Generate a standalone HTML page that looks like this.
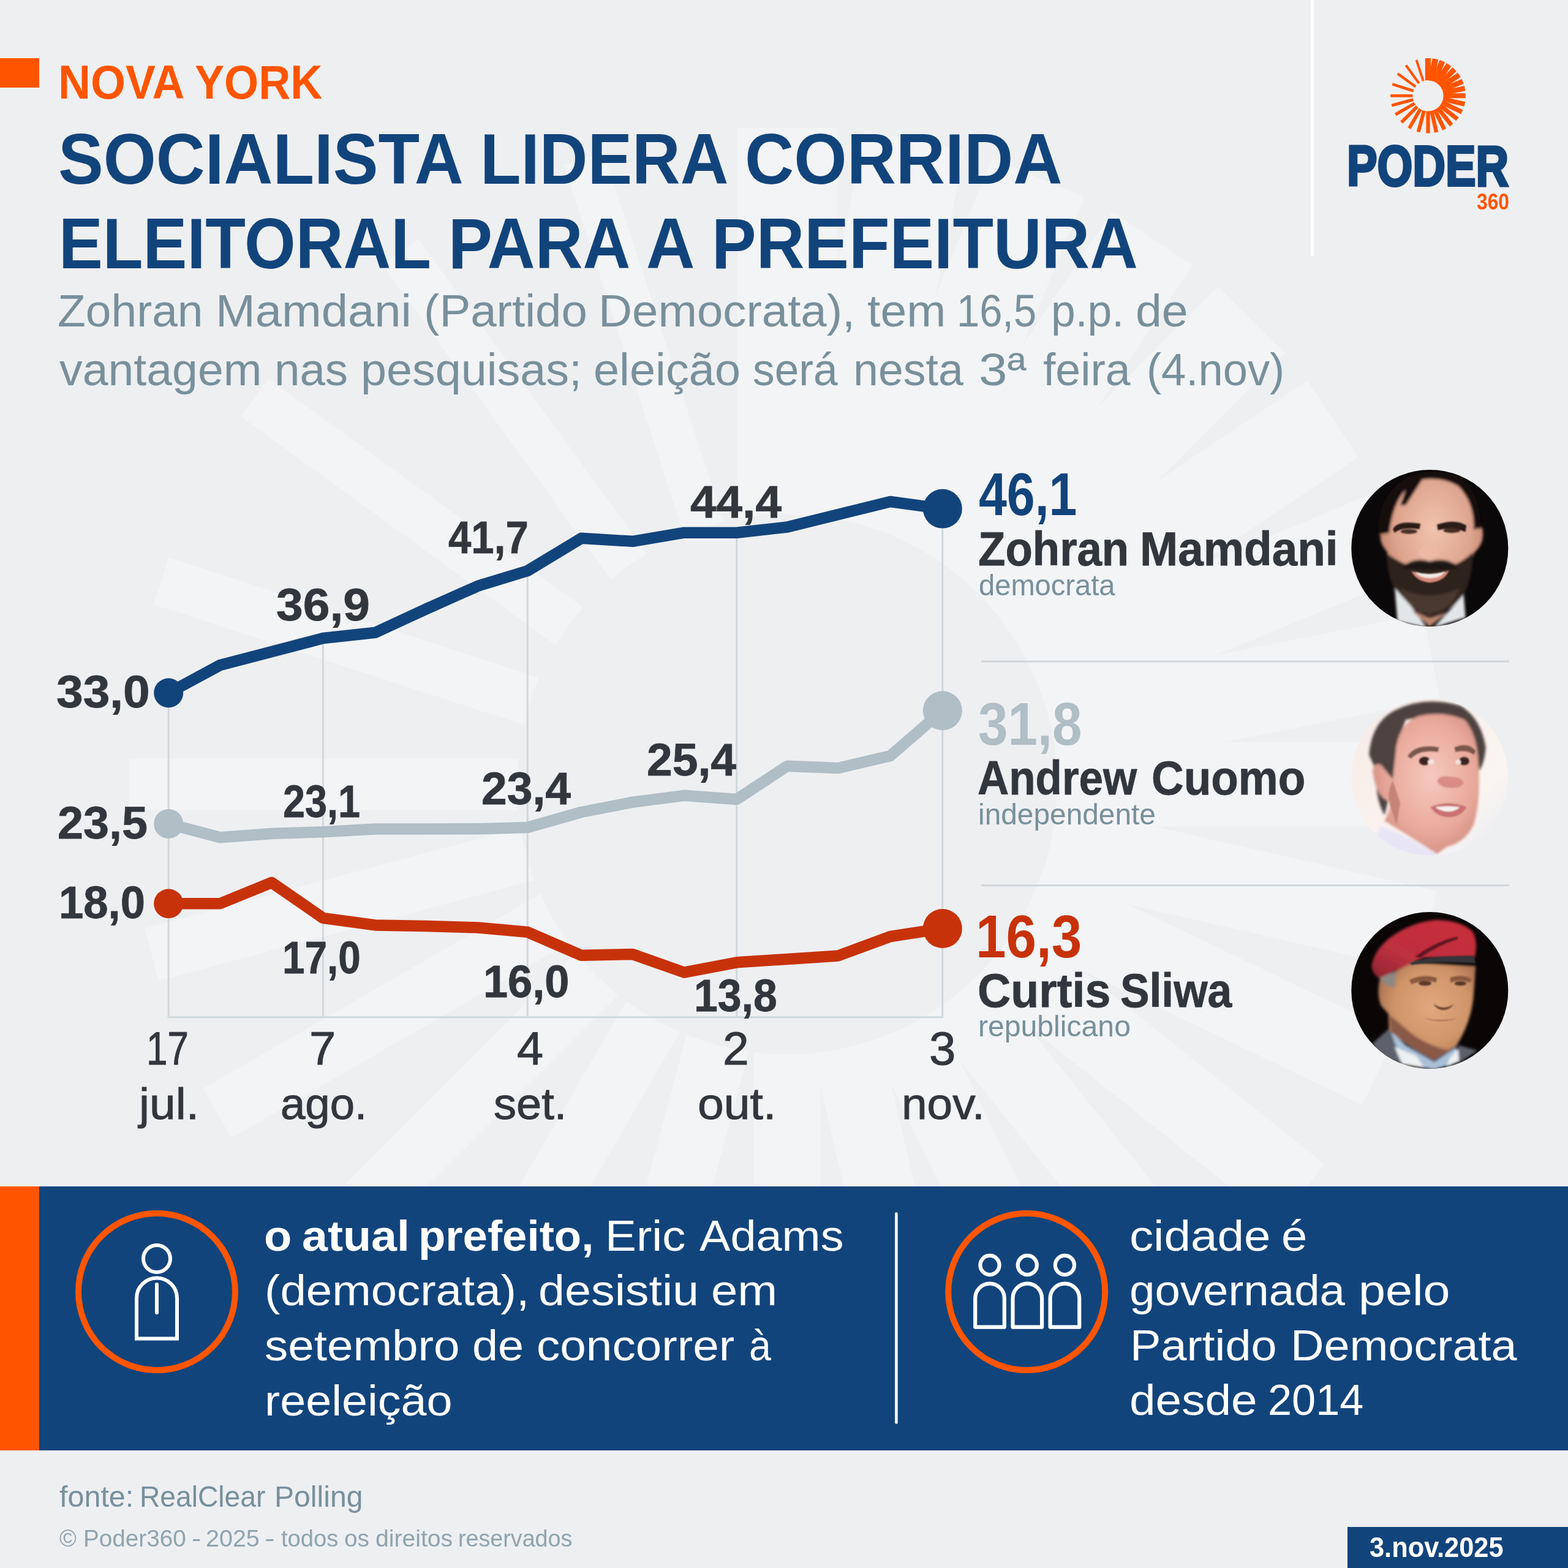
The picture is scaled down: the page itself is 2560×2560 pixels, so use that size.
<!DOCTYPE html>
<html lang="pt-BR">
<head>
<meta charset="utf-8">
<meta name="viewport" content="width=2560">
<title>Nova York: socialista lidera corrida eleitoral para a prefeitura</title>
<style>
html,body{margin:0;padding:0}
body{width:2560px;height:2560px;overflow:hidden;background:#EEEFF1;font-family:"Liberation Sans",sans-serif;position:relative}
.page{position:absolute;left:0;top:0;width:2560px;height:2560px;overflow:hidden;background:#EEEFF1}
.ln{position:absolute;left:0;top:0;width:0;height:0;margin:0;padding:0;line-height:1;white-space:nowrap}
.ln span{position:absolute;white-space:pre;line-height:1;transform-origin:0 0}
.tag{position:absolute;left:0;top:94.5px;width:64px;height:48px;background:#FF5500}
.vrule{position:absolute;left:2140px;top:0;width:5px;height:418px;background:#fff}
.band{position:absolute;left:0;top:1936.5px;width:2560px;height:431.5px;background:#12447C}
.band i{position:absolute;left:0;top:0;width:64px;height:431.5px;background:#FF5500}
.datebox{position:absolute;left:2200px;top:2493px;width:360px;height:67px;background:#12447C}
svg{position:absolute;left:0;top:0}
.logo span{-webkit-text-stroke:4px #12447C}
.tick span{-webkit-text-stroke:1px #32373E}
.val span,.name span{-webkit-text-stroke:.8px #32373E}
</style>
</head>
<body>
<div class="page">
<svg width="2560" height="2560" viewBox="0 0 2560 2560" aria-hidden="true"><g transform="translate(1285,1280.5)" fill="#F3F4F6"><path transform="rotate(0)" d="M-81.7,-433.1 A440.8,440.8 0 0,1 81.7,-433.1 L81.7,-1071.9 L-81.7,-1071.9 Z"/>
<path transform="rotate(11.2)" d="M-83.2,-432.8 A440.8,440.8 0 0,1 83.2,-432.8 L83.2,-1071.8 L-83.2,-1071.8 Z"/>
<path transform="rotate(22.5)" d="M-81.1,-433.2 A440.8,440.8 0 0,1 81.1,-433.2 L81.1,-1071.9 L-81.1,-1071.9 Z"/>
<path transform="rotate(33.8)" d="M-79.1,-433.6 A440.8,440.8 0 0,1 79.1,-433.6 L79.1,-1072.1 L-79.1,-1072.1 Z"/>
<path transform="rotate(45)" d="M-77,-434 A440.8,440.8 0 0,1 77,-434 L77,-1072.2 L-77,-1072.2 Z"/>
<path transform="rotate(56.2)" d="M-75,-434.3 A440.8,440.8 0 0,1 75,-434.3 L75,-1072.4 L-75,-1072.4 Z"/>
<path transform="rotate(67.5)" d="M-72.9,-434.7 A440.8,440.8 0 0,1 72.9,-434.7 L72.9,-1072.5 L-72.9,-1072.5 Z"/>
<path transform="rotate(78.8)" d="M-70.9,-435 A440.8,440.8 0 0,1 70.9,-435 L70.9,-1072.7 L-70.9,-1072.7 Z"/>
<path transform="rotate(90)" d="M-68.9,-435.3 A440.8,440.8 0 0,1 68.9,-435.3 L68.9,-1072.8 L-68.9,-1072.8 Z"/>
<path transform="rotate(102.9)" d="M-66.8,-435.7 A440.8,440.8 0 0,1 66.8,-435.7 L66.8,-1072.9 L-66.8,-1072.9 Z"/>
<path transform="rotate(115.7)" d="M-64.8,-436 A440.8,440.8 0 0,1 64.8,-436 L64.8,-1073 L-64.8,-1073 Z"/>
<path transform="rotate(128.6)" d="M-62.7,-436.3 A440.8,440.8 0 0,1 62.7,-436.3 L62.7,-1073.2 L-62.7,-1073.2 Z"/>
<path transform="rotate(141.4)" d="M-60.7,-436.6 A440.8,440.8 0 0,1 60.7,-436.6 L60.7,-1073.3 L-60.7,-1073.3 Z"/>
<path transform="rotate(154.3)" d="M-58.6,-436.8 A440.8,440.8 0 0,1 58.6,-436.8 L58.6,-1073.4 L-58.6,-1073.4 Z"/>
<path transform="rotate(167.1)" d="M-56.6,-437.1 A440.8,440.8 0 0,1 56.6,-437.1 L56.6,-1073.5 L-56.6,-1073.5 Z"/>
<path transform="rotate(180)" d="M-54.6,-437.4 A440.8,440.8 0 0,1 54.6,-437.4 L54.6,-1073.6 L-54.6,-1073.6 Z"/>
<path transform="rotate(195)" d="M-52.5,-437.6 A440.8,440.8 0 0,1 52.5,-437.6 L52.5,-1073.7 L-52.5,-1073.7 Z"/>
<path transform="rotate(210)" d="M-50.5,-437.9 A440.8,440.8 0 0,1 50.5,-437.9 L50.5,-1073.8 L-50.5,-1073.8 Z"/>
<path transform="rotate(225)" d="M-48.4,-438.1 A440.8,440.8 0 0,1 48.4,-438.1 L48.4,-1073.9 L-48.4,-1073.9 Z"/>
<path transform="rotate(240)" d="M-46.4,-438.3 A440.8,440.8 0 0,1 46.4,-438.3 L46.4,-1074 L-46.4,-1074 Z"/>
<path transform="rotate(255)" d="M-44.3,-438.5 A440.8,440.8 0 0,1 44.3,-438.5 L44.3,-1074.1 L-44.3,-1074.1 Z"/>
<path transform="rotate(270)" d="M-42.3,-438.7 A440.8,440.8 0 0,1 42.3,-438.7 L42.3,-1074.2 L-42.3,-1074.2 Z"/>
<path transform="rotate(288)" d="M-40.3,-438.9 A440.8,440.8 0 0,1 40.3,-438.9 L40.3,-1074.2 L-40.3,-1074.2 Z"/>
<path transform="rotate(306)" d="M-38.2,-439.1 A440.8,440.8 0 0,1 38.2,-439.1 L38.2,-1074.3 L-38.2,-1074.3 Z"/>
<path transform="rotate(324)" d="M-36.2,-439.3 A440.8,440.8 0 0,1 36.2,-439.3 L36.2,-1074.4 L-36.2,-1074.4 Z"/>
<path transform="rotate(342)" d="M-34.1,-439.4 A440.8,440.8 0 0,1 34.1,-439.4 L34.1,-1074.5 L-34.1,-1074.5 Z"/></g></svg>
<div class="tag"></div><div class="vrule"></div>
<div class="band"><i></i></div><div class="datebox"></div>
<svg width="2560" height="2560" viewBox="0 0 2560 2560">
<g transform="translate(2331.5,156.3)" fill="#FF5500"><path transform="rotate(0)" d="M-4.67,-24.74 A25.17,25.17 0 0,1 4.67,-24.74 L4.67,-61.22 L-4.67,-61.22 Z"/>
<path transform="rotate(11.25)" d="M-4.75,-24.72 A25.17,25.17 0 0,1 4.75,-24.72 L4.75,-61.22 L-4.75,-61.22 Z"/>
<path transform="rotate(22.5)" d="M-4.63,-24.74 A25.17,25.17 0 0,1 4.63,-24.74 L4.63,-61.22 L-4.63,-61.22 Z"/>
<path transform="rotate(33.75)" d="M-4.52,-24.77 A25.17,25.17 0 0,1 4.52,-24.77 L4.52,-61.23 L-4.52,-61.23 Z"/>
<path transform="rotate(45)" d="M-4.4,-24.79 A25.17,25.17 0 0,1 4.4,-24.79 L4.4,-61.24 L-4.4,-61.24 Z"/>
<path transform="rotate(56.25)" d="M-4.28,-24.81 A25.17,25.17 0 0,1 4.28,-24.81 L4.28,-61.25 L-4.28,-61.25 Z"/>
<path transform="rotate(67.5)" d="M-4.17,-24.83 A25.17,25.17 0 0,1 4.17,-24.83 L4.17,-61.26 L-4.17,-61.26 Z"/>
<path transform="rotate(78.75)" d="M-4.05,-24.85 A25.17,25.17 0 0,1 4.05,-24.85 L4.05,-61.27 L-4.05,-61.27 Z"/>
<path transform="rotate(90)" d="M-3.93,-24.86 A25.17,25.17 0 0,1 3.93,-24.86 L3.93,-61.27 L-3.93,-61.27 Z"/>
<path transform="rotate(102.86)" d="M-3.82,-24.88 A25.17,25.17 0 0,1 3.82,-24.88 L3.82,-61.28 L-3.82,-61.28 Z"/>
<path transform="rotate(115.71)" d="M-3.7,-24.9 A25.17,25.17 0 0,1 3.7,-24.9 L3.7,-61.29 L-3.7,-61.29 Z"/>
<path transform="rotate(128.57)" d="M-3.58,-24.92 A25.17,25.17 0 0,1 3.58,-24.92 L3.58,-61.3 L-3.58,-61.3 Z"/>
<path transform="rotate(141.43)" d="M-3.47,-24.93 A25.17,25.17 0 0,1 3.47,-24.93 L3.47,-61.3 L-3.47,-61.3 Z"/>
<path transform="rotate(154.29)" d="M-3.35,-24.95 A25.17,25.17 0 0,1 3.35,-24.95 L3.35,-61.31 L-3.35,-61.31 Z"/>
<path transform="rotate(167.14)" d="M-3.23,-24.97 A25.17,25.17 0 0,1 3.23,-24.97 L3.23,-61.31 L-3.23,-61.31 Z"/>
<path transform="rotate(180)" d="M-3.12,-24.98 A25.17,25.17 0 0,1 3.12,-24.98 L3.12,-61.32 L-3.12,-61.32 Z"/>
<path transform="rotate(195)" d="M-3,-24.99 A25.17,25.17 0 0,1 3,-24.99 L3,-61.33 L-3,-61.33 Z"/>
<path transform="rotate(210)" d="M-2.88,-25.01 A25.17,25.17 0 0,1 2.88,-25.01 L2.88,-61.33 L-2.88,-61.33 Z"/>
<path transform="rotate(225)" d="M-2.77,-25.02 A25.17,25.17 0 0,1 2.77,-25.02 L2.77,-61.34 L-2.77,-61.34 Z"/>
<path transform="rotate(240)" d="M-2.65,-25.03 A25.17,25.17 0 0,1 2.65,-25.03 L2.65,-61.34 L-2.65,-61.34 Z"/>
<path transform="rotate(255)" d="M-2.53,-25.05 A25.17,25.17 0 0,1 2.53,-25.05 L2.53,-61.35 L-2.53,-61.35 Z"/>
<path transform="rotate(270)" d="M-2.42,-25.06 A25.17,25.17 0 0,1 2.42,-25.06 L2.42,-61.35 L-2.42,-61.35 Z"/>
<path transform="rotate(288)" d="M-2.3,-25.07 A25.17,25.17 0 0,1 2.3,-25.07 L2.3,-61.36 L-2.3,-61.36 Z"/>
<path transform="rotate(306)" d="M-2.18,-25.08 A25.17,25.17 0 0,1 2.18,-25.08 L2.18,-61.36 L-2.18,-61.36 Z"/>
<path transform="rotate(324)" d="M-2.07,-25.09 A25.17,25.17 0 0,1 2.07,-25.09 L2.07,-61.37 L-2.07,-61.37 Z"/>
<path transform="rotate(342)" d="M-1.95,-25.1 A25.17,25.17 0 0,1 1.95,-25.1 L1.95,-61.37 L-1.95,-61.37 Z"/></g>
<line x1="275.2" y1="1131.3" x2="275.2" y2="1660.8" stroke="#CFD8DC" stroke-width="3"/>
<line x1="527.4" y1="1042.0" x2="527.4" y2="1660.8" stroke="#CFD8DC" stroke-width="3"/>
<line x1="861.2" y1="932.0" x2="861.2" y2="1660.8" stroke="#CFD8DC" stroke-width="3"/>
<line x1="1202.8" y1="869.7" x2="1202.8" y2="1660.8" stroke="#CFD8DC" stroke-width="3"/>
<line x1="1538.8" y1="830.6" x2="1538.8" y2="1660.8" stroke="#CFD8DC" stroke-width="3"/>
<line x1="273.7" y1="1660.8" x2="1540.3" y2="1660.8" stroke="#CFD8DC" stroke-width="3"/>
<line x1="1602" y1="1080.0" x2="2464" y2="1080.0" stroke="#CFD8DC" stroke-width="3"/>
<line x1="1602" y1="1445.5" x2="2464" y2="1445.5" stroke="#CFD8DC" stroke-width="3"/>
<polyline points="275.2,1345.0 359.2,1367.3 443.5,1361.0 527.4,1358.3 612.5,1353.6 696.5,1353.5 780.4,1353.2 861.2,1351.0 949.0,1326.0 1033.0,1309.7 1117.0,1298.8 1202.8,1305.0 1285.3,1250.7 1368.5,1254.0 1453.6,1234.0 1538.8,1160.3" fill="none" stroke="#B0BEC5" stroke-width="18.5" stroke-linejoin="round"/><circle cx="275.2" cy="1345.0" r="24" fill="#B0BEC5"/><circle cx="1538.8" cy="1160.3" r="32" fill="#B0BEC5"/>
<polyline points="275.2,1475.3 359.2,1475.3 443.5,1440.9 527.4,1498.8 612.5,1510.4 696.5,1512.0 780.4,1514.5 861.2,1521.7 949.0,1559.7 1033.0,1558.0 1117.0,1587.6 1202.8,1571.3 1285.3,1566.0 1368.5,1560.4 1453.6,1529.0 1538.8,1516.0" fill="none" stroke="#C8320A" stroke-width="18.5" stroke-linejoin="round"/><circle cx="275.2" cy="1475.3" r="24" fill="#C8320A"/><circle cx="1538.8" cy="1516.0" r="32" fill="#C8320A"/>
<polyline points="275.2,1131.3 359.2,1086.0 443.5,1064.0 527.4,1042.0 612.5,1032.8 696.5,994.0 780.4,956.7 861.2,932.0 949.0,878.8 1033.0,883.8 1117.0,869.7 1202.8,869.7 1285.3,860.5 1368.5,840.0 1453.6,819.0 1538.8,830.6" fill="none" stroke="#12447C" stroke-width="18.5" stroke-linejoin="round"/><circle cx="275.2" cy="1131.3" r="24" fill="#12447C"/><circle cx="1538.8" cy="830.6" r="32" fill="#12447C"/>
<defs><filter id="bl" x="-10%" y="-10%" width="120%" height="120%"><feGaussianBlur stdDeviation="14"/></filter><filter id="bs" x="-10%" y="-10%" width="120%" height="120%"><feGaussianBlur stdDeviation="7"/></filter><clipPath id="cp"><circle cx="961.5" cy="966" r="853"/></clipPath><radialGradient id="sk1" cx="0.52" cy="0.38" r="0.62"><stop offset="0" stop-color="#F1C3AE"/><stop offset="0.6" stop-color="#DDA48E"/><stop offset="1" stop-color="#B87862"/></radialGradient><radialGradient id="sk2" cx="0.55" cy="0.45" r="0.65"><stop offset="0" stop-color="#F6C9BE"/><stop offset="0.6" stop-color="#E9AA9C"/><stop offset="1" stop-color="#CC857A"/></radialGradient><radialGradient id="sk3" cx="0.55" cy="0.45" r="0.65"><stop offset="0" stop-color="#E2A87E"/><stop offset="0.6" stop-color="#CF9468"/><stop offset="1" stop-color="#9E664A"/></radialGradient><linearGradient id="bg2" x1="0" y1="0" x2="1" y2="1"><stop offset="0" stop-color="#F6EAE5"/><stop offset="0.7" stop-color="#FBF5F2"/><stop offset="1" stop-color="#E4E9F1"/></linearGradient><linearGradient id="br3" x1="0" y1="1" x2="1" y2="0"><stop offset="0" stop-color="#8E2530"/><stop offset="0.35" stop-color="#BE3040"/><stop offset="1" stop-color="#C92C38"/></linearGradient></defs>
<g transform="translate(2190,750) scale(0.15010)" clip-path="url(#cp)">
<rect x="80" y="90" width="1770" height="1760" fill="#0B0809"/>
<g filter="url(#bl)">
<path d="M430,780 Q400,900 500,1010 L520,1120 Q560,1400 700,1560 L960,1700 L1230,1560 Q1380,1400 1410,1100 L1450,1010 Q1570,900 1530,740 L1440,760 Q1450,420 1280,260 Q1120,150 900,190 Q640,260 540,560 Q500,680 510,800 Z" fill="url(#sk1)"/>
<path d="M400,820 Q380,420 700,200 Q960,90 1260,170 Q1520,330 1510,760 L1440,740 Q1440,460 1270,290 Q1100,190 880,220 L700,500 L640,500 L700,330 Q560,480 520,800 Z" fill="#17100F"/>
<path d="M490,1020 Q600,1100 700,1140 Q820,1060 960,1110 Q1110,1060 1240,1140 Q1340,1100 1430,1010 Q1430,1330 1300,1520 Q1150,1680 960,1690 Q770,1680 640,1520 Q500,1330 490,1020 Z" fill="#2E201C"/>
<path d="M640,1400 Q960,1560 1290,1400 Q1200,1660 960,1680 Q720,1660 640,1400 Z" fill="#4A372F"/>
<path d="M580,1400 L610,1760 L930,1830 L760,1600 Z M1330,1470 L1350,1720 L1000,1830 L1180,1640 Z" fill="#E2E6E8"/>
<path d="M760,1640 L960,1820 L1160,1660 L960,1720 Z" fill="#B98570"/>
</g><g filter="url(#bs)">
<path d="M560,760 Q600,660 860,700 L850,760 Q650,730 580,800 Z M1040,710 Q1240,640 1360,720 L1350,790 Q1220,730 1050,770 Z" fill="#2A1A17"/>
<ellipse cx="735" cy="785" rx="90" ry="26" fill="#4A2E27"/><ellipse cx="1200" cy="775" rx="90" ry="26" fill="#4A2E27"/>
<path d="M760,1215 Q960,1290 1170,1210 Q1120,1330 960,1340 Q820,1330 760,1215 Z" fill="#D98A7C"/>
<path d="M800,1222 Q960,1270 1130,1218 Q1080,1290 960,1292 Q850,1290 800,1222 Z" fill="#F3EAE5"/>
<path d="M660,1190 Q800,1100 960,1140 Q1120,1100 1270,1190 Q1120,1190 960,1200 Q800,1190 660,1190 Z" fill="#1F1512"/>
<ellipse cx="950" cy="1010" rx="110" ry="70" fill="#EDB9A5"/>
</g></g>
<g transform="translate(2190,1124) scale(0.15010)" clip-path="url(#cp)">
<rect x="80" y="90" width="1770" height="1760" fill="url(#bg2)"/>
<g filter="url(#bl)">
<path d="M300,720 Q330,380 560,250 Q900,70 1300,190 Q1520,330 1570,640 Q1560,800 1500,900 L1460,620 Q1380,360 1100,280 L700,340 L600,620 L560,1000 L470,1380 Q360,1180 380,900 Z" fill="#4E4340"/>
<path d="M600,620 Q640,380 840,300 Q1100,240 1340,340 Q1480,500 1490,820 Q1520,1200 1440,1480 Q1340,1680 1150,1720 L1040,1800 L760,1620 L470,1440 Q540,1300 530,1230 Q380,1200 340,900 Q350,800 430,830 L560,990 Z" fill="url(#sk2)"/>
<path d="M430,1490 L760,1640 L1050,1810 L1000,1850 L400,1850 L380,1600 Z" fill="#E8E6F6"/>
<path d="M1290,1700 L1300,1790 L1200,1850 L1100,1820 Z" fill="#F4F3FA"/>
</g><g filter="url(#bs)">
<path d="M720,740 Q800,600 1060,640 L1050,690 Q850,660 760,760 Z M1230,640 Q1380,580 1460,680 L1440,720 Q1360,660 1240,690 Z" fill="#7A564E"/>
<ellipse cx="905" cy="790" rx="60" ry="46" fill="#3C2320"/><ellipse cx="1335" cy="790" rx="56" ry="44" fill="#3C2320"/>
<ellipse cx="975" cy="800" rx="36" ry="30" fill="#F5E4E0"/><ellipse cx="1270" cy="800" rx="30" ry="26" fill="#F5E4E0"/>
<path d="M1040,1010 Q1060,940 1180,960 Q1310,960 1330,1030 Q1300,1090 1180,1080 Q1080,1080 1040,1010 Z" fill="#D98C86"/>
<path d="M970,1290 Q1160,1210 1360,1290 Q1300,1400 1160,1400 Q1030,1390 970,1290 Z" fill="#C97070"/>
<path d="M1020,1290 Q1160,1270 1290,1290 Q1240,1340 1160,1340 Q1070,1335 1020,1290 Z" fill="#F7F1EF"/>
<path d="M560,1000 Q500,1100 520,1240 L600,1480 L640,1250 Z" fill="#B77468" opacity="0.7"/>
</g></g>
<g transform="translate(2190,1472) scale(0.15010)" clip-path="url(#cp)">
<rect x="80" y="90" width="1770" height="1760" fill="#0A0606"/>
<g filter="url(#bl)">
<path d="M340,1540 L520,1380 L660,1760 L420,1700 Z M1270,1560 L1480,1620 L1300,1740 L1270,1740 Z" fill="#5B606A"/>
<path d="M530,1400 L700,1560 L1010,1740 L1250,1580 L1280,1740 L1010,1830 L660,1760 Z" fill="#A9C0D8"/>
<path d="M580,1580 L820,1680 L900,1810 L660,1770 Z M1180,1700 L1270,1600 L1280,1740 L1140,1800 Z" fill="#EEF1F3"/>
<path d="M420,830 Q380,1000 430,1130 L510,1220 L520,1400 Q700,1560 1010,1730 L1250,1570 Q1420,1300 1440,1000 L1460,700 L760,660 L520,800 Z" fill="url(#sk3)"/>
<path d="M520,1230 L540,1420 Q760,1580 1010,1730 L1180,1620 Q900,1560 700,1380 Z" fill="#8A5847"/>
<path d="M400,820 L600,760 L580,940 L470,900 Z" fill="#8D8782"/>
<path d="M330,700 Q350,540 520,400 Q740,230 1020,200 Q1300,200 1430,330 Q1490,440 1450,610 L900,610 Q700,700 420,830 Q340,800 330,700 Z" fill="url(#br3)"/>
</g><g filter="url(#bs)">
<path d="M740,670 Q900,590 1440,590 L1460,670 Q1000,640 770,690 Z" fill="#36363B"/>
<path d="M800,600 Q1050,420 1270,380 L1260,410 Q1060,470 860,610 Z" fill="#5E1720"/>
<path d="M740,850 Q900,780 1040,830 L1030,880 Q900,840 760,900 Z M1180,830 Q1300,780 1420,840 L1400,880 Q1300,840 1190,880 Z" fill="#8A5A40"/>
<ellipse cx="910" cy="890" rx="70" ry="26" fill="#5C3A2B"/><ellipse cx="1295" cy="890" rx="64" ry="24" fill="#5C3A2B"/>
<path d="M1000,1110 Q1100,1190 1220,1120 Q1180,1180 1100,1180 Q1030,1170 1000,1110 Z" fill="#6E4332"/>
<path d="M890,1265 Q1080,1310 1260,1270 Q1080,1330 890,1265 Z" fill="#A0584A"/>
</g></g>
<circle cx="256" cy="2109" r="128" fill="none" stroke="#FF5500" stroke-width="10"/>
<circle cx="1676.2" cy="2109" r="128" fill="none" stroke="#FF5500" stroke-width="10"/>
<g fill="none" stroke="#fff" stroke-width="6" stroke-linejoin="miter">
<circle cx="256" cy="2055" r="22"/>
<path d="M223,2185.6 L223,2119.4 A33,33 0 0,1 289,2119.4 L289,2185.6 Z"/>
<line x1="256" y1="2097" x2="256" y2="2143" stroke-linecap="round"/>
</g>
<g fill="none" stroke="#fff" stroke-width="6.2" stroke-linejoin="round">
<circle cx="1616.0" cy="2065.5" r="15.6"/>
<path d="M1592.2,2166.6 L1592.2,2119.4 A23.8,23.8 0 0,1 1639.8,2119.4 L1639.8,2166.6 Z"/>
<circle cx="1677.3" cy="2065.5" r="15.6"/>
<path d="M1653.5,2166.6 L1653.5,2119.4 A23.8,23.8 0 0,1 1701.1,2119.4 L1701.1,2166.6 Z"/>
<circle cx="1738.4" cy="2065.5" r="15.6"/>
<path d="M1714.6,2166.6 L1714.6,2119.4 A23.8,23.8 0 0,1 1762.2,2119.4 L1762.2,2166.6 Z"/>
</g>
<line x1="1463.4" y1="1981.5" x2="1463.4" y2="2322.4" stroke="#fff" stroke-width="4.5" stroke-linecap="round"/>
</svg>
<div class="ln kicker" style="font-size:77.5px;font-weight:700;color:#FF5500"><span style="left:95.1px;top:96px;transform:scaleX(0.9457)">NOVA</span> <span style="left:318.3px;top:96px;transform:scaleX(0.9307)">YORK</span></div>
<h1 class="ln h1" style="font-size:117px;font-weight:700;color:#12447C"><span style="left:94.9px;top:201px;transform:scaleX(0.9456)">SOCIALISTA</span> <span style="left:783.7px;top:201px;transform:scaleX(0.9308)">LIDERA</span> <span style="left:1215.9px;top:201px;transform:scaleX(0.9495)">CORRIDA</span></h1>
<h1 class="ln h1" style="font-size:117px;font-weight:700;color:#12447C"><span style="left:95.7px;top:339px;transform:scaleX(0.9202)">ELEITORAL</span> <span style="left:732.3px;top:339px;transform:scaleX(0.9207)">PARA</span> <span style="left:1054.9px;top:339px;transform:scaleX(0.9401)">A</span> <span style="left:1162.2px;top:339px;transform:scaleX(0.9309)">PREFEITURA</span></h1>
<p class="ln sub" style="font-size:73.5px;font-weight:400;color:#78909C"><span style="left:94.4px;top:471px;transform:scaleX(1.0200)">Zohran</span> <span style="left:352.4px;top:471px;transform:scaleX(1.0580)">Mamdani</span> <span style="left:692.1px;top:471px;transform:scaleX(1.0368)">(Partido</span> <span style="left:977.3px;top:471px;transform:scaleX(1.0369)">Democrata),</span> <span style="left:1415.5px;top:471px;transform:scaleX(1.0474)">tem</span> <span style="left:1561.6px;top:471px;transform:scaleX(0.9094)">16,5</span> <span style="left:1715.7px;top:471px;transform:scaleX(0.9716)">p.p.</span> <span style="left:1853.5px;top:471px;transform:scaleX(1.0476)">de</span></p>
<p class="ln sub" style="font-size:73.5px;font-weight:400;color:#78909C"><span style="left:96.5px;top:567px;transform:scaleX(1.0239)">vantagem</span> <span style="left:447.8px;top:567px;transform:scaleX(1.0137)">nas</span> <span style="left:589.4px;top:567px;transform:scaleX(1.0275)">pesquisas;</span> <span style="left:968.5px;top:567px;transform:scaleX(1.0304)">eleição</span> <span style="left:1229.4px;top:567px;transform:scaleX(0.9706)">será</span> <span style="left:1393.1px;top:567px;transform:scaleX(1.0004)">nesta</span> <span style="left:1597.8px;top:567px;transform:scaleX(1.1366)">3ª</span> <span style="left:1702.9px;top:567px;transform:scaleX(0.9976)">feira</span> <span style="left:1871.5px;top:567px;transform:scaleX(0.9843)">(4.nov)</span></p>
<div class="ln logo" style="font-size:92.5px;font-weight:700;color:#12447C"><span style="left:2198.6px;top:225px;transform:scaleX(0.8028)">PODER</span></div>
<div class="ln logo360" style="font-size:36px;font-weight:700;color:#FF5500"><span style="left:2411.3px;top:312px;transform:scaleX(0.8827)">360</span></div>
<div class="ln val" style="font-size:75px;font-weight:700;color:#32373E"><span style="left:91.5px;top:1092px;transform:scaleX(1.0461)">33,0</span></div>
<div class="ln val" style="font-size:75px;font-weight:700;color:#32373E"><span style="left:450.6px;top:950px;transform:scaleX(1.0475)">36,9</span></div>
<div class="ln val" style="font-size:75px;font-weight:700;color:#32373E"><span style="left:731.6px;top:840px;transform:scaleX(0.8958)">41,7</span></div>
<div class="ln val" style="font-size:75px;font-weight:700;color:#32373E"><span style="left:1127.4px;top:782px;transform:scaleX(1.0204)">44,4</span></div>
<div class="ln val" style="font-size:75px;font-weight:700;color:#32373E"><span style="left:93.6px;top:1306px;transform:scaleX(1.0078)">23,5</span></div>
<div class="ln val" style="font-size:75px;font-weight:700;color:#32373E"><span style="left:461.8px;top:1271px;transform:scaleX(0.8634)">23,1</span></div>
<div class="ln val" style="font-size:75px;font-weight:700;color:#32373E"><span style="left:786.2px;top:1250px;transform:scaleX(1.0008)">23,4</span></div>
<div class="ln val" style="font-size:75px;font-weight:700;color:#32373E"><span style="left:1056.1px;top:1203px;transform:scaleX(1.0008)">25,4</span></div>
<div class="ln val" style="font-size:75px;font-weight:700;color:#32373E"><span style="left:96.0px;top:1436px;transform:scaleX(0.9654)">18,0</span></div>
<div class="ln val" style="font-size:75px;font-weight:700;color:#32373E"><span style="left:460.9px;top:1526px;transform:scaleX(0.8756)">17,0</span></div>
<div class="ln val" style="font-size:75px;font-weight:700;color:#32373E"><span style="left:789.0px;top:1565px;transform:scaleX(0.9618)">16,0</span></div>
<div class="ln val" style="font-size:75px;font-weight:700;color:#32373E"><span style="left:1133.3px;top:1588px;transform:scaleX(0.9305)">13,8</span></div>
<div class="ln big" style="font-size:98px;font-weight:700;color:#12447C"><span style="left:1597.7px;top:758px;transform:scaleX(0.8406)">46,1</span></div>
<h2 class="ln name" style="font-size:77.5px;font-weight:700;color:#32373E"><span style="left:1596.7px;top:858px;transform:scaleX(0.9377)">Zohran</span> <span style="left:1861.4px;top:858px;transform:scaleX(0.9630)">Mamdani</span></h2>
<div class="ln party" style="font-size:48px;font-weight:400;color:#78909C"><span style="left:1598.0px;top:932px;transform:scaleX(0.9810)">democrata</span></div>
<div class="ln big" style="font-size:98px;font-weight:700;color:#B0BEC5"><span style="left:1596.6px;top:1133px;transform:scaleX(0.8885)">31,8</span></div>
<h2 class="ln name" style="font-size:77.5px;font-weight:700;color:#32373E"><span style="left:1596.2px;top:1232px;transform:scaleX(0.9153)">Andrew</span> <span style="left:1880.0px;top:1232px;transform:scaleX(0.9417)">Cuomo</span></h2>
<div class="ln party" style="font-size:48px;font-weight:400;color:#78909C"><span style="left:1597.4px;top:1306px;transform:scaleX(0.9965)">independente</span></div>
<div class="ln big" style="font-size:98px;font-weight:700;color:#C8320A"><span style="left:1593.4px;top:1480px;transform:scaleX(0.9081)">16,3</span></div>
<h2 class="ln name" style="font-size:77.5px;font-weight:700;color:#32373E"><span style="left:1595.9px;top:1579px;transform:scaleX(0.9707)">Curtis</span> <span style="left:1829.3px;top:1579px;transform:scaleX(0.9196)">Sliwa</span></h2>
<div class="ln party" style="font-size:48px;font-weight:400;color:#78909C"><span style="left:1597.4px;top:1652px;transform:scaleX(1.0029)">republicano</span></div>
<div class="ln tick" style="font-size:76px;font-weight:400;color:#32373E"><span style="left:239.3px;top:1674px;transform:scaleX(0.8140)">17</span></div>
<div class="ln tick" style="font-size:73px;font-weight:400;color:#32373E"><span style="left:226.5px;top:1765px;transform:scaleX(1.0504)">jul.</span></div>
<div class="ln tick" style="font-size:76px;font-weight:400;color:#32373E"><span style="left:505.0px;top:1674px;transform:scaleX(1.0213)">7</span></div>
<div class="ln tick" style="font-size:73px;font-weight:400;color:#32373E"><span style="left:457.9px;top:1765px;transform:scaleX(0.9937)">ago.</span></div>
<div class="ln tick" style="font-size:76px;font-weight:400;color:#32373E"><span style="left:843.7px;top:1674px;transform:scaleX(1.0206)">4</span></div>
<div class="ln tick" style="font-size:73px;font-weight:400;color:#32373E"><span style="left:805.9px;top:1765px;transform:scaleX(1.0140)">set.</span></div>
<div class="ln tick" style="font-size:76px;font-weight:400;color:#32373E"><span style="left:1180.1px;top:1674px;transform:scaleX(1.0105)">2</span></div>
<div class="ln tick" style="font-size:73px;font-weight:400;color:#32373E"><span style="left:1138.8px;top:1765px;transform:scaleX(1.0532)">out.</span></div>
<div class="ln tick" style="font-size:76px;font-weight:400;color:#32373E"><span style="left:1516.5px;top:1674px;transform:scaleX(1.0264)">3</span></div>
<div class="ln tick" style="font-size:73px;font-weight:400;color:#32373E"><span style="left:1471.5px;top:1765px;transform:scaleX(1.0244)">nov.</span></div>
<p class="ln note" style="font-size:71px;font-weight:400;color:#fff"><span style="left:430.6px;top:1982px;font-weight:700;transform:scaleX(1.0442)">o</span> <span style="left:492.8px;top:1982px;font-weight:700;transform:scaleX(1.0611)">atual</span> <span style="left:683.1px;top:1982px;font-weight:700;transform:scaleX(1.0223)">prefeito,</span> <span style="left:988.0px;top:1982px;transform:scaleX(1.0743)">Eric</span> <span style="left:1141.5px;top:1982px;transform:scaleX(1.0656)">Adams</span></p>
<p class="ln note" style="font-size:71px;font-weight:400;color:#fff"><span style="left:432.1px;top:2071px;transform:scaleX(1.0738)">(democrata),</span> <span style="left:878.8px;top:2071px;transform:scaleX(1.0887)">desistiu</span> <span style="left:1160.8px;top:2071px;transform:scaleX(1.0974)">em</span></p>
<p class="ln note" style="font-size:71px;font-weight:400;color:#fff"><span style="left:432.1px;top:2161px;transform:scaleX(1.0762)">setembro</span> <span style="left:770.8px;top:2161px;transform:scaleX(1.0666)">de</span> <span style="left:876.1px;top:2161px;transform:scaleX(1.0778)">concorrer</span> <span style="left:1223.0px;top:2161px;transform:scaleX(0.9072)">à</span></p>
<p class="ln note" style="font-size:71px;font-weight:400;color:#fff"><span style="left:431.8px;top:2251px;transform:scaleX(1.0640)">reeleição</span></p>
<p class="ln note" style="font-size:71px;font-weight:400;color:#fff"><span style="left:1843.5px;top:1982px;transform:scaleX(1.1021)">cidade</span> <span style="left:2092.1px;top:1982px;transform:scaleX(1.0711)">é</span></p>
<p class="ln note" style="font-size:71px;font-weight:400;color:#fff"><span style="left:1843.7px;top:2071px;transform:scaleX(1.0491)">governada</span> <span style="left:2218.0px;top:2071px;transform:scaleX(1.1131)">pelo</span></p>
<p class="ln note" style="font-size:71px;font-weight:400;color:#fff"><span style="left:1845.3px;top:2161px;transform:scaleX(1.0645)">Partido</span> <span style="left:2107.2px;top:2161px;transform:scaleX(1.0638)">Democrata</span></p>
<p class="ln note" style="font-size:71px;font-weight:400;color:#fff"><span style="left:1843.6px;top:2250px;transform:scaleX(1.0779)">desde</span> <span style="left:2069.9px;top:2250px;transform:scaleX(0.9901)">2014</span></p>
<p class="ln src" style="font-size:49px;font-weight:400;color:#78909C"><span style="left:96.8px;top:2419px;transform:scaleX(0.9894)">fonte:</span> <span style="left:228.2px;top:2419px;transform:scaleX(0.9421)">RealClear</span> <span style="left:447.7px;top:2419px;transform:scaleX(0.9819)">Polling</span></p>
<p class="ln copy" style="font-size:38px;font-weight:400;color:#90A4AE"><span style="left:96.9px;top:2493px;transform:scaleX(0.9951)">©</span> <span style="left:135.6px;top:2493px;transform:scaleX(1.0174)">Poder360</span> <span style="left:313.4px;top:2493px;transform:scaleX(1.2070)">-</span> <span style="left:336.3px;top:2493px;transform:scaleX(1.0390)">2025</span> <span style="left:432.4px;top:2493px;transform:scaleX(1.3148)">-</span> <span style="left:459.4px;top:2493px;transform:scaleX(1.0042)">todos</span> <span style="left:562.0px;top:2493px;transform:scaleX(1.0196)">os</span> <span style="left:613.1px;top:2493px;transform:scaleX(1.0299)">direitos</span> <span style="left:748.4px;top:2493px;transform:scaleX(0.9914)">reservados</span></p>
<div class="ln date" style="font-size:46.5px;font-weight:700;color:#fff"><span style="left:2236.2px;top:2503px;transform:scaleX(0.9327)">3.nov.2025</span></div>
</div>
</body>
</html>
